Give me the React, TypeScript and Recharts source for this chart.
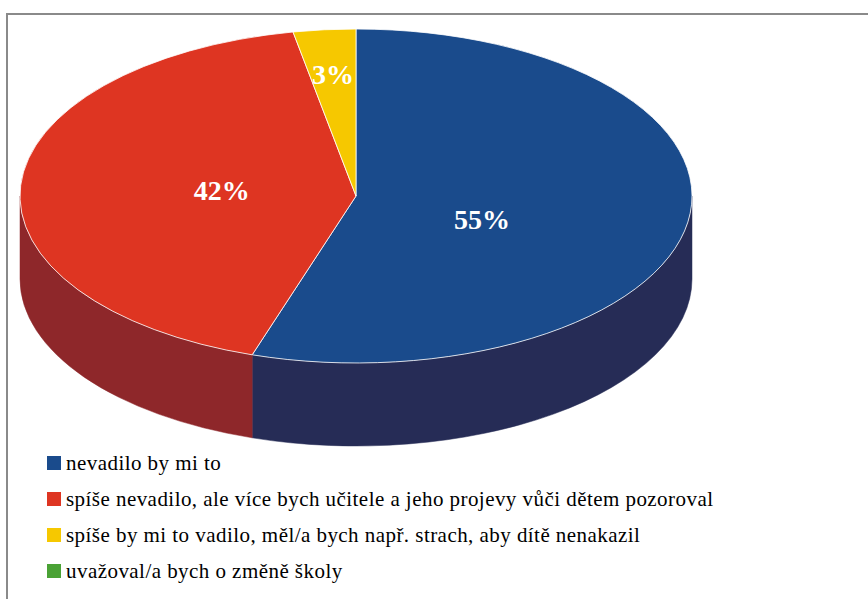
import React from 'react';
import { PieChart, Pie, Cell, Legend } from 'recharts';

const categories = [
  'nevadilo by mi to',
  'spíše nevadilo, ale více bych učitele a jeho projevy vůči dětem pozoroval',
  'spíše by mi to vadilo, měl/a bych např. strach, aby dítě nenakazil',
  'uvažoval/a bych o změně školy',
];
const values = [55, 42, 3, 0];
const labels = ['55%', '42%', '3%', ''];

const topColors = ['#1a4b8c', '#de3522', '#f6c800', '#4aa235'];
const sideColors = ['#262c56', '#8e272a', '#a88600', '#2f6a22'];

const data = categories.map((name, i) => ({ name, value: values[i] }));

const W = 868;
const H = 599;
const CX = 356;
const CY = 196;
const RX = 336;
const RATIO = 0.497;
const DEPTH = 83;
const SERIF = 'Liberation Serif';

// label placement tweaks (Excel puts them a bit differently per slice)
const labelRadius = [0.38, 0.4, 0.73, 0];
const labelDy = [14, -1, 0, 0];

const rad = (d: number) => (d * Math.PI) / 180;

function Slice3D(props: any) {
  const { cx, cy, outerRadius, startAngle, endAngle, index } = props;
  const rx = outerRadius;
  const ry = outerRadius * RATIO;
  const t0 = 90 - startAngle;
  const t1 = 90 - endAngle;
  if (t1 - t0 <= 0.001) return null;
  const pt = (t: number, dy = 0) => `${cx + rx * Math.sin(rad(t))},${cy - ry * Math.cos(rad(t)) + dy}`;
  const large = t1 - t0 > 180 ? 1 : 0;
  const top = `M${cx},${cy} L${pt(t0)} A${rx},${ry} 0 ${large} 1 ${pt(t1)} Z`;
  const a = Math.max(t0, 90);
  const b = Math.min(t1, 270);
  let side: string | null = null;
  if (b > a) {
    side = `M${pt(a)} A${rx},${ry} 0 0 1 ${pt(b)} L${pt(b, DEPTH)} A${rx},${ry} 0 0 0 ${pt(a, DEPTH)} Z`;
  }
  return (
    <g>
      {side && <path d={side} fill={sideColors[index]} stroke={sideColors[index]} strokeWidth={0.5} />}
      <path d={top} fill={topColors[index]} stroke="#ffffff" strokeWidth={0.8} strokeLinejoin="round" />
    </g>
  );
}

function renderLabel(props: any) {
  const { cx, cy, midAngle, outerRadius, index } = props;
  if (!labels[index]) return null;
  const f = labelRadius[index];
  const x = cx + f * outerRadius * Math.cos(rad(midAngle));
  const y = cy - f * outerRadius * RATIO * Math.sin(rad(midAngle)) + labelDy[index];
  return (
    <text
      x={x}
      y={y}
      fill="#ffffff"
      textAnchor="middle"
      dominantBaseline="central"
      fontFamily={SERIF}
      fontWeight={700}
      fontSize={28}
    >
      {labels[index]}
    </text>
  );
}

function renderLegend() {
  return (
    <div style={{ fontFamily: SERIF, fontSize: 21, letterSpacing: 0.45, color: '#000', lineHeight: 1 }}>
      {categories.map((c, i) => (
        <div key={c} style={{ display: 'flex', alignItems: 'center', height: 36, whiteSpace: 'nowrap' }}>
          <span
            style={{ display: 'inline-block', width: 14, height: 14, background: topColors[i], marginRight: 5, flex: 'none' }}
          />
          <span>{c}</span>
        </div>
      ))}
    </div>
  );
}

export default function App() {
  return (
    <div style={{ position: 'absolute', left: 0, top: 0, width: W, height: H, overflow: 'hidden', background: '#fff' }}>
      <div
        style={{
          position: 'absolute',
          left: 6,
          top: 13,
          width: 1000,
          height: 800,
          borderTop: '2px solid #8a8a8a',
          borderLeft: '2px solid #8a8a8a',
        }}
      />
      <div style={{ position: 'absolute', left: 0, top: 0 }}>
        <PieChart width={W} height={H} margin={{ top: 0, right: 0, bottom: 0, left: 0 }}>
          <Pie
            data={data}
            dataKey="value"
            nameKey="name"
            cx={CX}
            cy={CY}
            innerRadius={0}
            outerRadius={RX}
            startAngle={90}
            endAngle={-270}
            isAnimationActive={false}
            shape={Slice3D}
            label={renderLabel}
            labelLine={false}
          >
            {data.map((d, i) => (
              <Cell key={d.name} fill={topColors[i]} />
            ))}
          </Pie>
          <Legend
            content={renderLegend}
            wrapperStyle={{ position: 'absolute', left: 47, top: 445, width: 800 }}
          />
        </PieChart>
      </div>
    </div>
  );
}
